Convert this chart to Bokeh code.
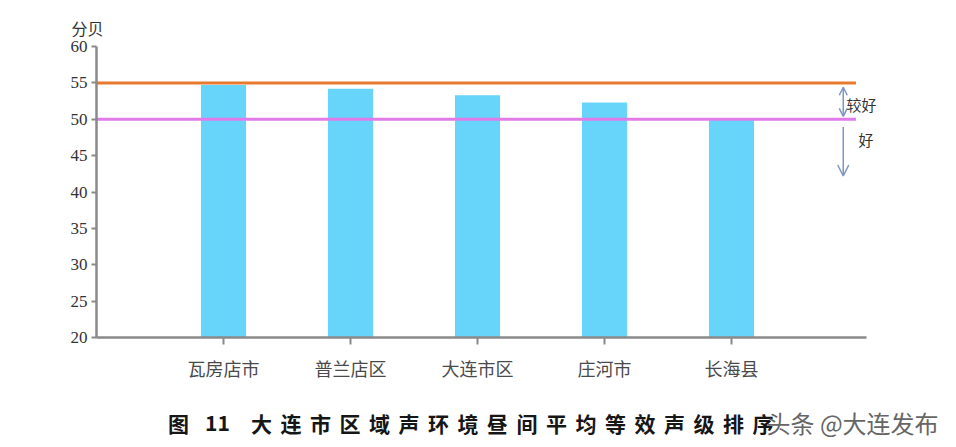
from bokeh.plotting import figure
from bokeh.models import Range1d, FixedTicker, Label, Arrow, OpenHead, ColumnDataSource
from bokeh.layouts import column
from bokeh.embed import file_html
from bokeh.resources import INLINE

categories = ["瓦房店市", "普兰店区", "大连市区", "庄河市", "长海县"]
values = [54.7, 54.2, 53.3, 52.3, 50.0]
y_ticks = [20, 25, 30, 35, 40, 45, 50, 55, 60]
level_good_upper = 55
level_good = 50
y_unit = "分贝"
band_upper_label = "较好"
band_lower_label = "好"
fig_no = "图"
fig_num = "11"
title_text = "大连市区域声环境昼间平均等效声级排序"
watermark = "头条 @大连发布"

xs = list(range(1, len(categories) + 1))
PX_PER_CAT = 127.0
FRAME_W = 804

p = figure(width=950, height=390, output_backend="svg", toolbar_location=None,
           x_range=Range1d(0, FRAME_W / PX_PER_CAT), y_range=Range1d(20, 60),
           min_border_left=96, min_border_right=50, min_border_top=46, min_border_bottom=53,
           title=y_unit)
p.outline_line_color = None
p.xgrid.visible = False
p.ygrid.visible = False
p.title.align = "left"
p.title.offset = -25
p.title.standoff = 13
p.title.text_font = "Noto Sans CJK SC"
p.title.text_font_size = "16px"
p.title.text_font_style = "normal"
p.title.text_color = "#333333"

src = ColumnDataSource(dict(x=xs, top=values))
p.vbar(x="x", top="top", bottom=20, width=0.355, source=src, fill_color="#66D5F9", line_color=None)

line_end = 5.98
p.segment(x0=[0], y0=[level_good_upper], x1=[line_end], y1=[level_good_upper], line_color="#E87A2E", line_width=3)
p.segment(x0=[0], y0=[level_good], x1=[line_end], y1=[level_good], line_color="#E27BEA", line_width=3)

arrow_color = "#7E96C4"
ax = 5.88
p.add_layout(Arrow(x_start=ax, y_start=50.4, x_end=ax, y_end=54.4, line_color=arrow_color, line_width=1.5,
                   start=OpenHead(size=8, line_color=arrow_color, line_width=1.5),
                   end=OpenHead(size=8, line_color=arrow_color, line_width=1.5)))
p.add_layout(Arrow(x_start=ax, y_start=48.95, x_end=ax, y_end=42.2, line_color=arrow_color, line_width=1.5,
                   end=OpenHead(size=11, line_color=arrow_color, line_width=1.5)))
p.add_layout(Label(x=5.905, y=52.05, text=band_upper_label, text_font="Noto Sans CJK SC", text_font_size="15px",
                   text_color="#333333", text_baseline="middle", text_align="left"))
p.add_layout(Label(x=6.0, y=47.2, text=band_lower_label, text_font="Noto Sans CJK SC", text_font_size="15px",
                   text_color="#333333", text_baseline="middle", text_align="left"))

for a in (p.xaxis[0], p.yaxis[0]):
    a.axis_line_color = "#8A8A8A"
    a.axis_line_width = 2.5
    a.major_tick_line_color = "#8A8A8A"
    a.major_tick_line_width = 2
    a.minor_tick_line_color = None
    a.major_tick_in = 0

p.xaxis.bounds = (0, 6.06)
p.yaxis.ticker = FixedTicker(ticks=y_ticks)
p.yaxis.major_tick_out = 5
p.yaxis.major_label_text_font = "serif"
p.yaxis.major_label_text_font_size = "17px"
p.yaxis.major_label_text_color = "#333333"
p.yaxis.major_label_standoff = 4

p.xaxis.ticker = FixedTicker(ticks=xs)
p.xaxis.major_label_overrides = {x: c for x, c in zip(xs, categories)}
p.xaxis.major_tick_out = 7
p.xaxis.major_label_text_font = "Noto Sans CJK SC"
p.xaxis.major_label_text_font_size = "18px"
p.xaxis.major_label_text_color = "#4A4A4A"
p.xaxis.major_label_standoff = 10

# caption strip below the chart (coordinates in pixels of this strip)
cap = figure(width=950, height=55, output_backend="svg", toolbar_location=None,
             x_range=Range1d(0, 950), y_range=Range1d(0, 55),
             x_axis_type=None, y_axis_type=None, min_border=0)
try:
    cap.frame_align = False
except Exception:
    pass
cap.outline_line_color = None
cap.xgrid.visible = False
cap.ygrid.visible = False
cy = 23
step = 29.5
chars = list(title_text)
cx = [261 + i * step for i in range(len(chars))]
cap.text(x=[178, 217] + cx, y=[cy] * (2 + len(chars)), text=[fig_no, fig_num] + chars,
         text_font={"value": "Noto Sans CJK SC"}, text_font_size={"value": "21px"},
         text_font_style={"value": "bold"}, text_color="#161616",
         text_align="center", text_baseline="middle")
cap.text(x=[766], y=[cy], text=[watermark], text_font={"value": "Noto Sans CJK SC"},
         text_font_size={"value": "24px"}, text_color="#666666",
         text_align="left", text_baseline="middle")

open("out.html", "w").write(file_html(column(p, cap), INLINE))
